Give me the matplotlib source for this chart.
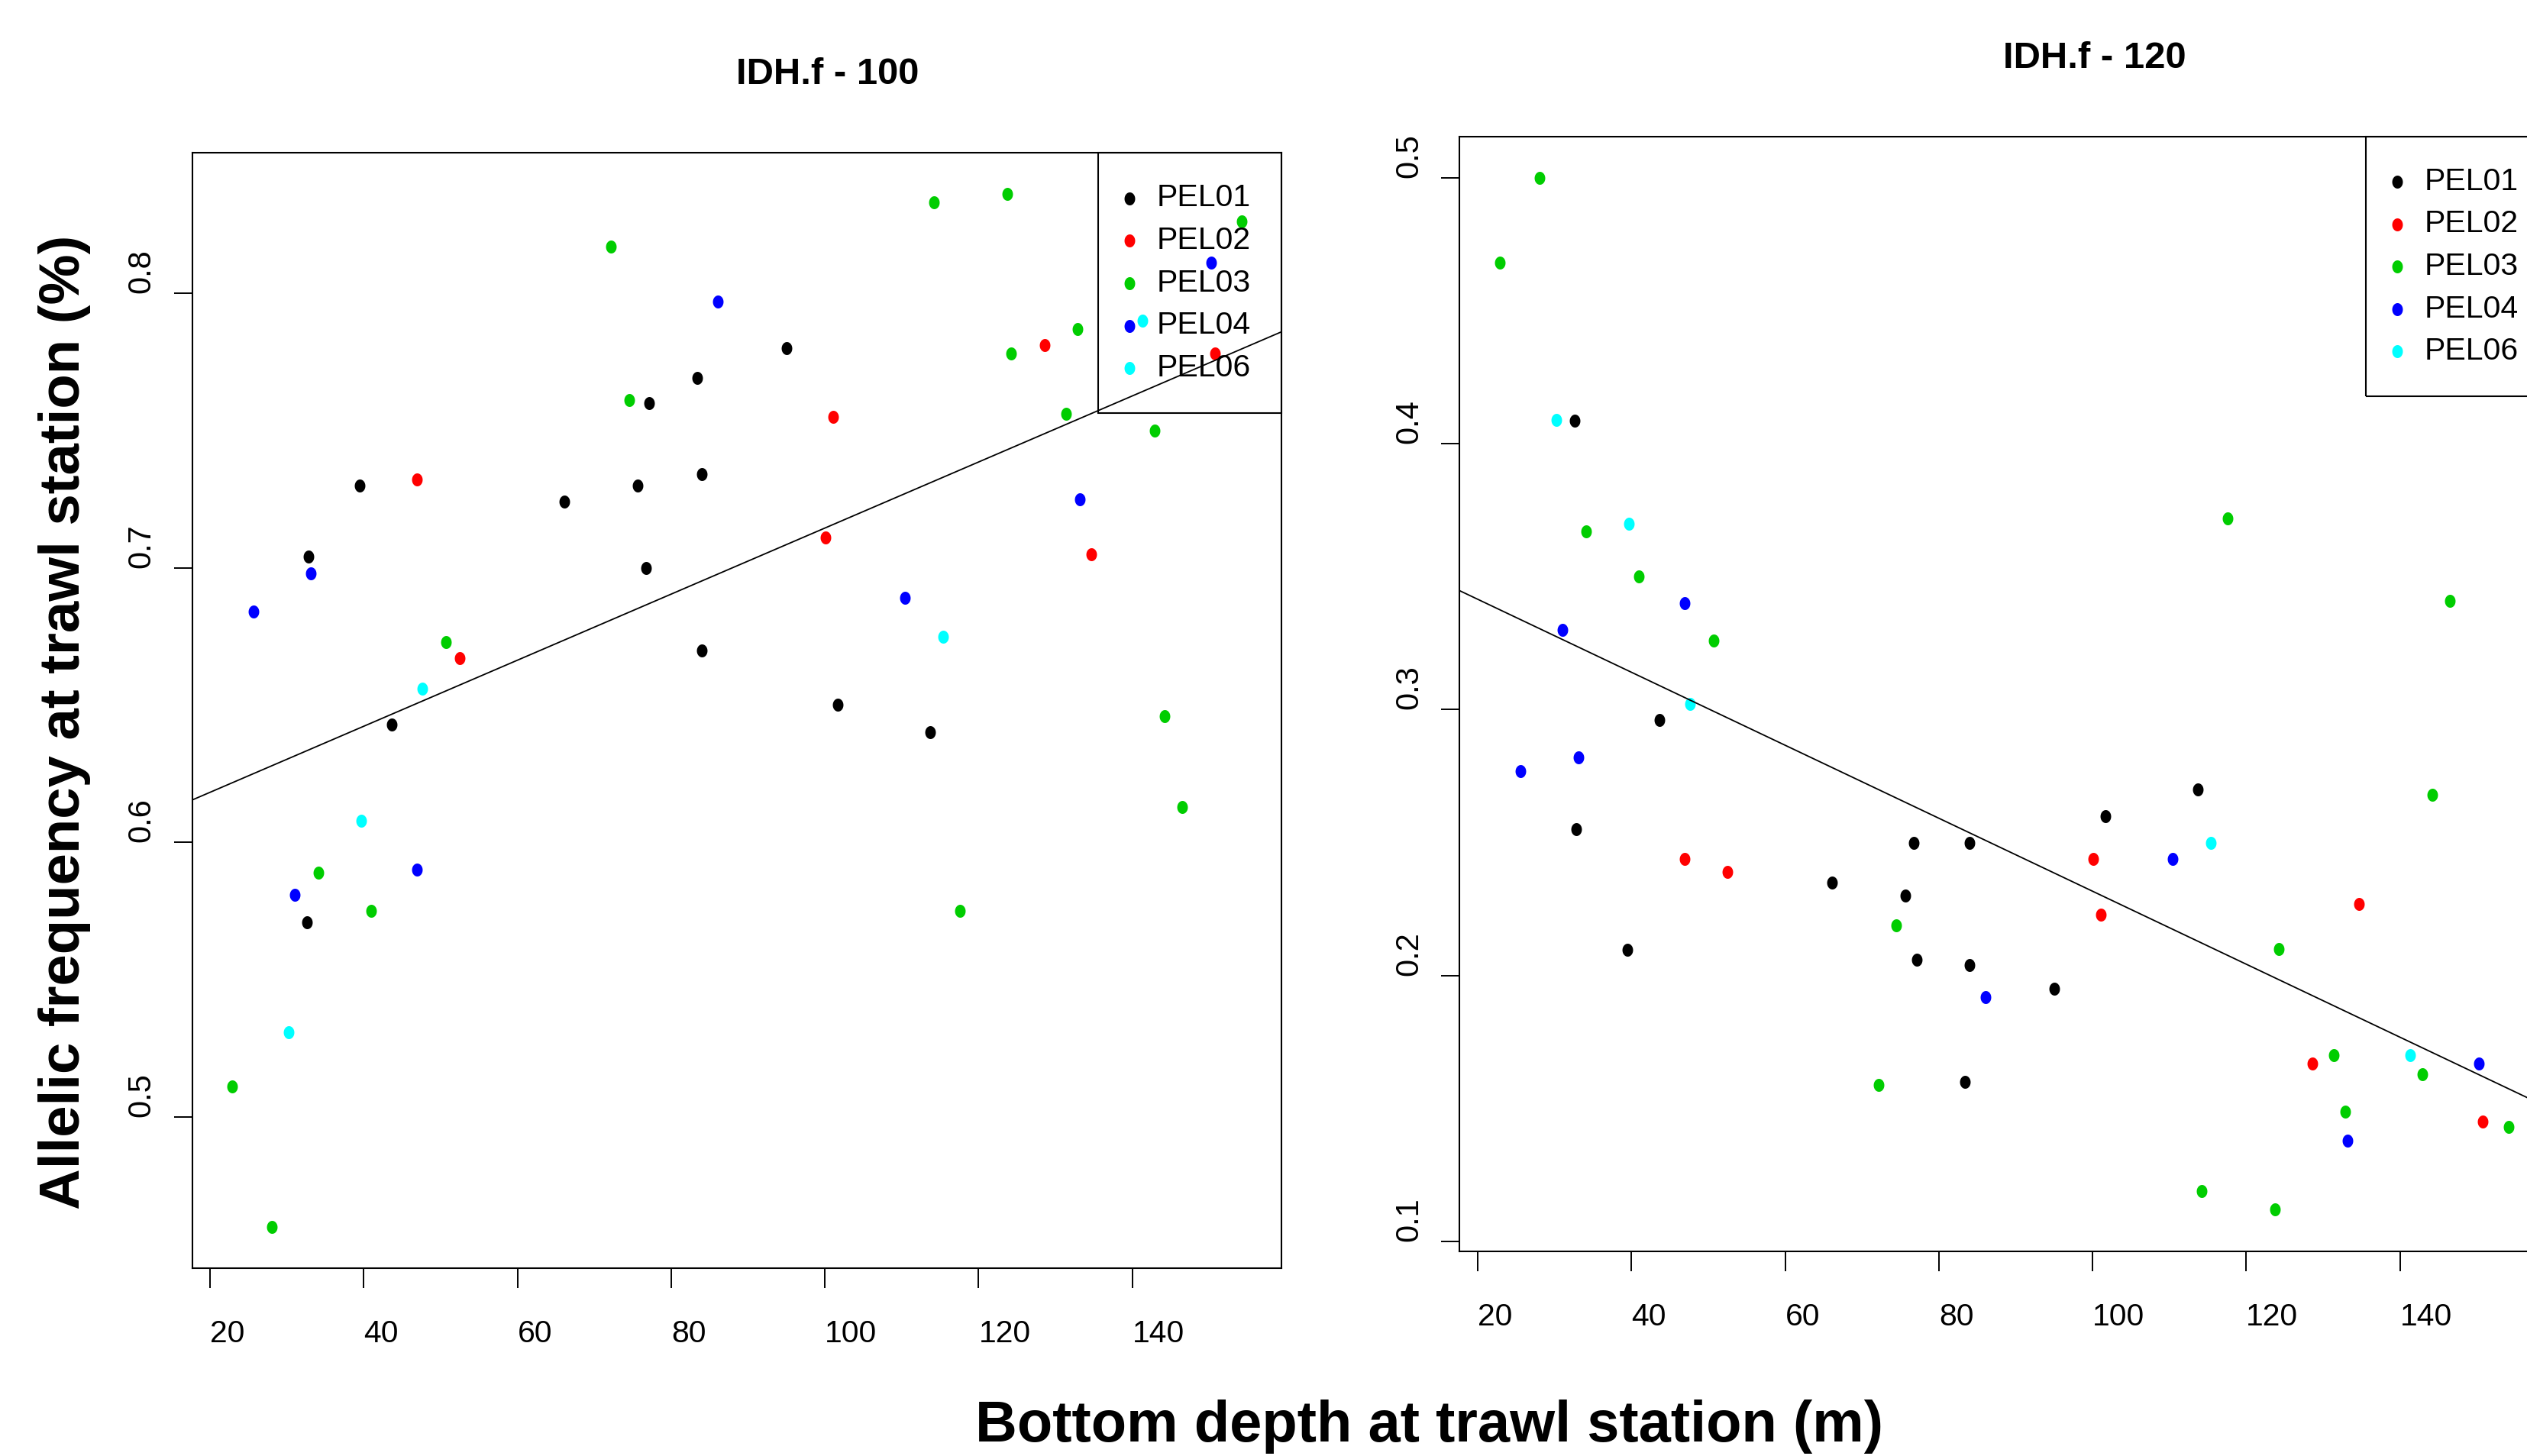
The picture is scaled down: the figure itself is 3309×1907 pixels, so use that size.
import numpy as np
import matplotlib
matplotlib.use("Agg")
import matplotlib.pyplot as plt
from matplotlib import font_manager
from matplotlib.path import Path

# bottom depth (m) of each trawl station, per population
pel01_depth = [32.6, 32.8, 39.5, 43.6, 66.1, 75.6, 76.7, 77.1, 83.4, 84.0, 84.0, 95.0, 101.7, 113.7]
pel02_depth = [46.9, 52.5, 100.1, 101.1, 128.6, 134.7, 150.8]
pel03_depth = [22.9, 28.0, 34.1, 41.0, 50.7, 72.2, 74.5, 114.2, 117.6, 123.7, 124.2, 131.4, 132.9, 142.9, 144.2, 146.5, 154.2]
pel04_depth = [25.6, 31.0, 33.1, 46.9, 86.1, 110.4, 133.2, 150.3]
pel06_depth = [30.2, 39.7, 47.6, 115.4, 141.3]

# allelic frequency, allele IDH.f - 100
pel01_f100 = [0.571, 0.704, 0.730, 0.643, 0.724, 0.730, 0.700, 0.760, 0.769, 0.734, 0.670, 0.780, 0.650, 0.640]
pel02_f100 = [0.732, 0.667, 0.711, 0.755, 0.781, 0.705, 0.778]
pel03_f100 = [0.511, 0.460, 0.589, 0.575, 0.673, 0.817, 0.761, 0.833, 0.575, 0.836, 0.778, 0.756, 0.787, 0.750, 0.646, 0.613, 0.826]
pel04_f100 = [0.684, 0.581, 0.698, 0.590, 0.797, 0.689, 0.725, 0.811]
pel06_f100 = [0.531, 0.608, 0.656, 0.675, 0.790]

# allelic frequency, allele IDH.f - 120
pel01_f120 = [0.4085, 0.255, 0.2096, 0.296, 0.235, 0.230, 0.250, 0.206, 0.160, 0.250, 0.204, 0.195, 0.260, 0.270]
pel02_f120 = [0.244, 0.239, 0.244, 0.223, 0.167, 0.227, 0.145]
pel03_f120 = [0.468, 0.500, 0.367, 0.350, 0.326, 0.159, 0.219, 0.119, 0.372, 0.112, 0.210, 0.170, 0.149, 0.163, 0.268, 0.341, 0.143]
pel04_f120 = [0.277, 0.330, 0.282, 0.340, 0.192, 0.244, 0.138, 0.167]
pel06_f120 = [0.409, 0.370, 0.302, 0.250, 0.170]

pops = ["PEL01", "PEL02", "PEL03", "PEL04", "PEL06"]
colors = ["black", "#FF0000", "#00CD00", "#0000FF", "#00FFFF"]
depths = [pel01_depth, pel02_depth, pel03_depth, pel04_depth, pel06_depth]
f100 = [pel01_f100, pel02_f100, pel03_f100, pel04_f100, pel06_f100]
f120 = [pel01_f120, pel02_f120, pel03_f120, pel04_f120, pel06_f120]

xticks = [20, 40, 60, 80, 100, 120, 140]
yticks100 = [0.5, 0.6, 0.7, 0.8]
yticks120 = [0.1, 0.2, 0.3, 0.4, 0.5]

# narrow font if there is one, else plain Liberation Sans a bit smaller
names = {f.name for f in font_manager.fontManager.ttflist}
narrow = "Liberation Sans Narrow" if "Liberation Sans Narrow" in names else "Liberation Sans"
shrink = 1.0 if narrow == "Liberation Sans Narrow" else 0.84
wide = "Liberation Sans"

W, H = 3309, 1907
fig = plt.figure(figsize=(W / 100, H / 100), dpi=100)

t = np.linspace(0, 2 * np.pi, 41)
dot = Path(np.column_stack([0.82 * np.cos(t), np.sin(t)]))


def rlim(vals):
    lo, hi = min(vals), max(vals)
    pad = 0.04 * (hi - lo)
    return lo - pad, hi + pad


def panel(ax, freqs, yticks):
    for d, f, c, p in zip(depths, freqs, colors, pops):
        ax.scatter(d, f, s=150, marker=dot, color=c, linewidths=0, label=p, zorder=3)
    allx = np.concatenate([np.array(d) for d in depths])
    ally = np.concatenate([np.array(f) for f in freqs])
    b, a = np.polyfit(allx, ally, 1)
    ax.axline((0, a), slope=b, color="black", lw=1.3, zorder=4)
    ax.set_xlim(rlim(allx))
    ax.set_ylim(rlim(ally))
    ax.set_xticks(xticks)
    ax.set_yticks(yticks)
    ax.set_xticklabels([str(v) for v in xticks], fontsize=35 * shrink, family=narrow, ha="left")
    ax.set_yticklabels([str(v) for v in yticks], fontsize=30, family=wide,
                       rotation=90, va="bottom", ha="right")
    ax.tick_params(axis="x", length=19, width=1.4, pad=29.5)
    ax.tick_params(axis="y", length=17, width=1.4, pad=16)
    for sp in ax.spines.values():
        sp.set_linewidth(1.5)
        sp.set_color("black")
    leg = ax.legend(loc="upper right", borderaxespad=0, fancybox=False, edgecolor="black",
                    facecolor="none", framealpha=1, scatterpoints=1,
                    prop={"family": wide, "size": 29.5},
                    borderpad=0.98, handlelength=0.05, handletextpad=0.85, labelspacing=0.43)
    leg.get_frame().set_linewidth(1.5)
    leg.set_zorder(5)


ax1 = fig.add_axes([251.5 / W, 1 - 1661 / H, 1426.9 / W, 1460.7 / H])
panel(ax1, f100, yticks100)
ax2 = fig.add_axes([1911.4 / W, 1 - 1638.5 / H, 1426.9 / W, 1459.9 / H])
panel(ax2, f120, yticks120)

fig.text(1084 / W, 1 - 110 / H, "IDH.f - 100", ha="center", va="baseline",
         fontsize=42 * shrink, fontweight="bold", family=narrow)
fig.text(2742.6 / W, 1 - 89 / H, "IDH.f - 120", ha="center", va="baseline",
         fontsize=42 * shrink, fontweight="bold", family=narrow)
fig.text(1871 / W, 1 - 1888 / H, "Bottom depth at trawl station (m)", ha="center",
         va="baseline", fontsize=65 * shrink, fontweight="bold", family=narrow)
fig.text(104 / W, 1 - 946 / H, "Allelic frequency at trawl station (%)", rotation=90,
         rotation_mode="anchor", ha="center", va="baseline", fontsize=53.6,
         fontweight="bold", family=wide)

fig.savefig("out.png", dpi=100)
